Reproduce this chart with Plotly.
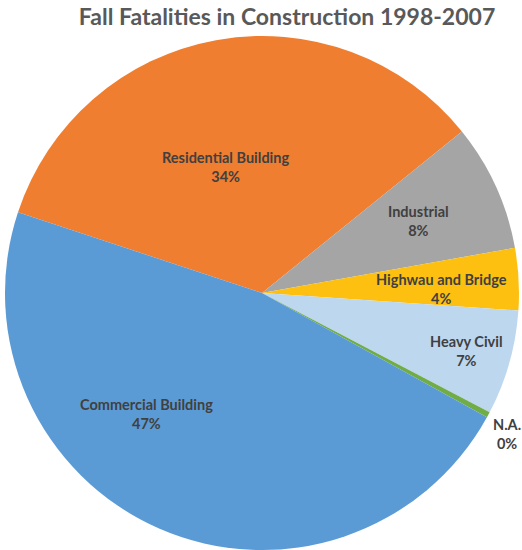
import math
import plotly.graph_objects as go

categories = ["Residential Building", "Industrial", "Highwau and Bridge", "Heavy Civil", "N.A.", "Commercial Building"]
values = [34.1, 8.0, 3.9, 6.6, 0.35, 47.05]
colors = ["#F07E30", "#A5A5A5", "#FDC010", "#BDD7EE", "#70AD47", "#5B9BD5"]

# label placement style (radius fraction and angular offset, degrees)
label_rfrac = [0.51, 0.67, 0.70, 0.825, 1.10, 0.65]
label_dang = [-6, 0, 2, 0, 1.6, 20]

W, H = 522, 550
dom_x = [5 / W, 519 / W]
dom_y = [0, 514 / H]
rotation = -71.7

fig = go.Figure(go.Pie(
    labels=categories,
    values=values,
    sort=False,
    direction="clockwise",
    rotation=rotation,
    marker=dict(colors=colors, line=dict(width=0)),
    textinfo="none",
    showlegend=False,
    domain=dict(x=dom_x, y=dom_y),
    hoverinfo="label+percent",
))

# labels placed from the data-derived slice angles
cx = (dom_x[0] + dom_x[1]) / 2 * W
cy = (1 - (dom_y[0] + dom_y[1]) / 2) * H
R = min((dom_x[1] - dom_x[0]) * W, (dom_y[1] - dom_y[0]) * H) / 2
total = sum(values)
start = rotation
annotations = []
for lab, v, rf, da in zip(categories, values, label_rfrac, label_dang):
    mid = start + v / total * 360 / 2 + da
    start += v / total * 360
    a = math.radians(mid)
    px = cx + rf * R * math.sin(a)
    py = cy - rf * R * math.cos(a)
    pct = round(v / total * 100)
    annotations.append(dict(
        x=px / W, y=1 - py / H, xref="paper", yref="paper",
        text=f"<b>{lab}</b><br><b>{pct}%</b>", showarrow=False,
        xanchor="center", yanchor="middle", align="center",
        font=dict(family="Lato", size=14.5, color="#404040"),
    ))

fig.update_layout(
    width=W, height=H,
    margin=dict(l=0, r=0, t=0, b=0),
    paper_bgcolor="white",
    title=dict(text="<b>Fall Fatalities in Construction 1998-2007</b>",
               x=287 / W, xanchor="center", y=1 - 17 / H, yanchor="middle",
               font=dict(family="Lato", size=23, color="#595959")),
    annotations=annotations,
)

fig.write_html("out.html")
